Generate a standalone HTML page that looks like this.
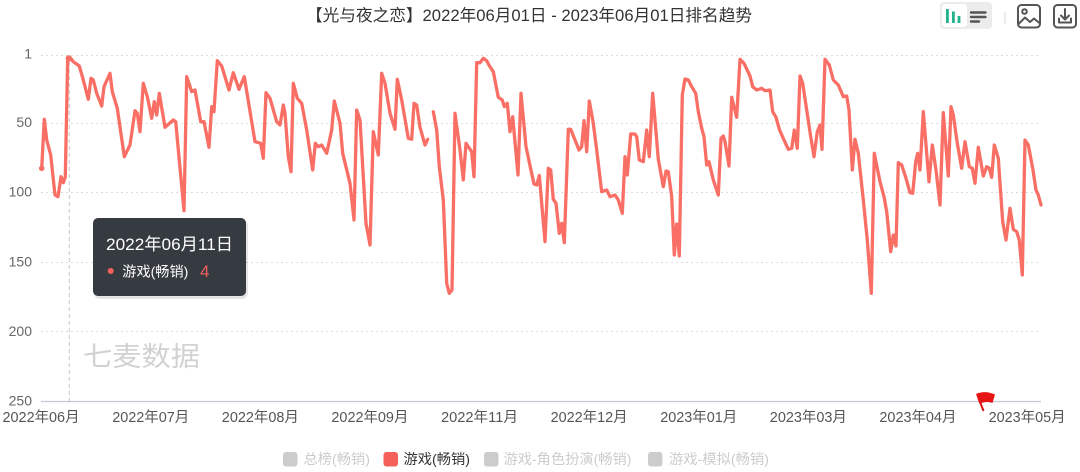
<!DOCTYPE html>
<html>
<head>
<meta charset="utf-8">
<style>
html,body{margin:0;padding:0;background:#fff;}
body{width:1080px;height:472px;overflow:hidden;}
svg{display:block;font-family:"Liberation Sans","Noto Sans CJK SC",sans-serif;}
</style>
</head>
<body>
<svg width="1080" height="472" viewBox="0 0 1080 472" xmlns="http://www.w3.org/2000/svg">
  <rect width="1080" height="472" fill="#fff"/>
  <!-- Title -->
  <text x="306" y="21" font-size="16.5" fill="#333" textLength="446" lengthAdjust="spacingAndGlyphs">【光与夜之恋】2022年06月01日 - 2023年06月01日排名趋势</text>

  <!-- Toolbar icons -->
  <rect x="940" y="2" width="52" height="27" rx="4" fill="#ececec"/>
  <rect x="942" y="4" width="25" height="23" rx="3" fill="#fff"/>
  <rect x="946" y="9" width="2.8" height="14" fill="#22b38c"/>
  <rect x="952" y="11.5" width="2.8" height="11.5" fill="#22b38c"/>
  <rect x="957.6" y="16" width="2.8" height="7" fill="#22b38c"/>
  <g stroke="#555" stroke-width="2.4" stroke-linecap="round">
    <line x1="971" y1="12.5" x2="985.5" y2="12.5"/>
    <line x1="971" y1="17" x2="985.5" y2="17"/>
    <line x1="971" y1="21.5" x2="979" y2="21.5"/>
  </g>
  <line x1="1005" y1="12" x2="1005" y2="24" stroke="#d8d8d8" stroke-width="1"/>
  <g fill="none" stroke="#555" stroke-width="2" stroke-linejoin="round" stroke-linecap="round">
    <rect x="1018" y="5" width="22" height="22.5" rx="3.5"/>
    <circle cx="1024.5" cy="11.5" r="2.3"/>
    <polyline points="1018.5,24 1025,17.5 1030,22 1034,18.5 1039.5,23"/>
    <rect x="1054" y="5" width="22" height="22.5" rx="3.5"/>
    <line x1="1065" y1="9" x2="1065" y2="19"/>
    <polyline points="1061,15.5 1065,19.5 1069,15.5"/>
    <polyline points="1059,18.5 1059,22.5 1071,22.5 1071,18.5"/>
  </g>

  <!-- Grid lines -->
  <g stroke="#dcdcdc" stroke-width="1" stroke-dasharray="2,3">
    <line x1="41" y1="55.5" x2="1041" y2="55.5"/>
    <line x1="41" y1="123.5" x2="1041" y2="123.5"/>
    <line x1="41" y1="192.5" x2="1041" y2="192.5"/>
    <line x1="41" y1="262.5" x2="1041" y2="262.5"/>
    <line x1="41" y1="331.5" x2="1041" y2="331.5"/>
  </g>
  <line x1="41" y1="401.5" x2="1041" y2="401.5" stroke="#c3cad3" stroke-width="1.2"/>

  <!-- Y labels -->
  <g font-size="14" fill="#666" text-anchor="end">
    <text x="32" y="58.5">1</text>
    <text x="32" y="127">50</text>
    <text x="32" y="196.5">100</text>
    <text x="32" y="266.5">150</text>
    <text x="32" y="336">200</text>
    <text x="32" y="405.5">250</text>
  </g>

  <!-- X labels -->
  <g font-size="14.5" fill="#555">
    <text x="2.5" y="422" textLength="77" lengthAdjust="spacingAndGlyphs">2022年06月</text>
    <text x="112.2" y="422" textLength="77" lengthAdjust="spacingAndGlyphs">2022年07月</text>
    <text x="221.8" y="422" textLength="77" lengthAdjust="spacingAndGlyphs">2022年08月</text>
    <text x="331.4" y="422" textLength="77" lengthAdjust="spacingAndGlyphs">2022年09月</text>
    <text x="441" y="422" textLength="77" lengthAdjust="spacingAndGlyphs">2022年11月</text>
    <text x="550.6" y="422" textLength="77" lengthAdjust="spacingAndGlyphs">2022年12月</text>
    <text x="660.2" y="422" textLength="77" lengthAdjust="spacingAndGlyphs">2023年01月</text>
    <text x="769.8" y="422" textLength="77" lengthAdjust="spacingAndGlyphs">2023年03月</text>
    <text x="879.4" y="422" textLength="77" lengthAdjust="spacingAndGlyphs">2023年04月</text>
    <text x="988.6" y="422" textLength="77" lengthAdjust="spacingAndGlyphs">2023年05月</text>
  </g>

  <!-- Watermark -->
  <text x="83" y="366" font-size="27" fill="#d2d2d2" textLength="117" lengthAdjust="spacingAndGlyphs">七麦数据</text>

  <!-- Axis pointer -->
  <line x1="69.3" y1="55" x2="69.3" y2="401" stroke="#c8c8c8" stroke-width="1" stroke-dasharray="4,3"/>

  <!-- Series line -->
  <g fill="none" stroke="#f96f65" stroke-width="3.3" stroke-linejoin="round" stroke-linecap="round">
    <polyline points="41.7,168.3 44.3,119.3 46.7,140 50.7,155 55,195 58,196.7 61,176.7 63.3,182.7 65.3,176.7 67.7,58.3 70.7,58.3 73.3,61.7 79.3,66 83.3,80 88.3,99.3 91,78.3 93.3,80 96.7,93.3 101.7,106 104,86.7 110,73.3 112.3,91.7 117.3,108.3 124.3,156.7 130,145 135,110.7 137.3,113.3 140,131.7 143.3,83.3 147.3,96.7 151.7,118.3 154.3,101.7 156.7,115 159.3,93.3 165,127.3 173.3,120 175.7,121.7 184,210.7 186.7,76.7 191.7,91.7 195,90 200.7,121.7 204,121.7 209,147.3 211.7,106.7 214,111.7 217.3,60.7 221.7,66 229,90 233.3,72.7 239,89.3 244.3,76.7 255,141.7 260.7,143.3 263.3,158.3 266,92.7 270,98.3 276.7,121.7 280,125 283.3,105 285,113.3 288.3,156.7 291,171.7 293.3,83.3 297.3,98.3 301.7,103.3 306.7,130 312.7,170 315.3,143.3 318.3,146.7 321.7,145 326.7,153.3 331.7,130 334.3,101 340,123.3 342.7,153.3 350,183.3 354,220 356.7,110 360,120 366,223.3 370,245 373.3,131.7 378.3,155 381.7,73.3 385,83.3 390,113.3 395,129.3 397.3,79.3 401.7,100 408.3,138.3 411.7,139.3 414,103.3 416.7,105 420,127.3 425,145 427.7,139.3"/>
    <polyline points="433.3,111.7 436.7,130 439.3,166.7 443.3,200 446.7,283.3 449.3,293.3 452,290 455,113.3 460,150 463.3,180 466,143.3 471.7,151.7 474,176.7 476.7,62.7 480,62.7 483.3,58.3 486.7,60.7 489.3,65.7 493.3,71.7 498.3,97.3 502.3,100 504.3,106.7 507.3,103.3 510,131.7 512.7,116.7 518,175 521,93.3 526,146.7 530.5,168 534,184 536.7,185 539.3,175.5 545,241.7 548.3,168.3 550.7,170 553.3,199.3 556,203.3 559.3,233.3 561.7,223.3 564.3,242.7 568.3,129.3 570.7,129.3 575,140 579,150 581.7,146.7 584,120.7 586.7,151.7 589.3,101 593.3,123.3 596.7,150 601.7,191.7 606.7,190 610,196.7 615,195 618.3,200 622.3,213.3 625,156.7 627.3,175 630.7,134 635,134 636.7,136.7 639.3,160 643.3,161.7 646.7,130 649.3,156.7 652.7,93.3 658.3,159.3 663.3,186.7 666,171 668.3,171.7 671.7,196.7 674.3,255 676.7,224 679.3,256 682.3,95 685,79 688.3,80 691.7,86.7 695.7,93.3 698.3,111.7 701.7,128.3 704,136.7 706.7,165 709,161.7 713.3,180 718.3,195 721,138.3 723.3,136 725,141.7 729,166 731.7,97.3 736.7,117.3 740,59.3 744,63.3 750,76 752.7,86.7 756.7,90 761.7,88.3 765,90.7 770,90 772.7,111.7 776,117.3 779.3,129.3 784,140 788.3,149.3 791.7,148.3 794.3,130 797.3,148.3 800,76 802.7,83.3 806.7,110 810.7,136.7 814,156.7 817.3,131.7 820,125 822,149.3 825,59.3 829.3,65 833.3,80 838.3,85 843.3,96.7 846.7,96 849,110 852.3,170 855,139.3 858.3,153.3 863.3,200 867.3,240 871.3,293.3 874.3,153.3 880,181.7 884,196.7 886.7,211.7 890.7,251.7 893.3,235 896,246 898.3,162.7 901.7,165 906,178.3 910,192.7 912.7,193.3 915.7,161.7 917.7,153.3 920,170 923.3,111.7 929,181.7 932.3,145 936,170 940,205 943.3,112.7 948.3,176 951,106.7 953.3,115 957.3,143.3 961.7,168.3 965,141.7 969.3,166.7 972.3,168.3 975,183.3 978.3,147.3 983.3,176 986.7,166.7 989.3,168.3 991.7,177.3 994.3,145 998.3,158.3 1002.7,221.7 1006,240 1010,208.3 1013.3,229.3 1016.7,231.7 1019.3,240 1022.3,275 1025,140 1028.3,145 1032.7,168.3 1036,190 1038.3,195 1041,205"/>
  </g>
  <circle cx="41.7" cy="168.3" r="2.8" fill="#f96f65"/>
  <circle cx="68.8" cy="58.5" r="3.2" fill="#f96f65"/>

  <!-- Flag -->
  <line x1="977.5" y1="395" x2="983.5" y2="411" stroke="#e01010" stroke-width="2"/>
  <path d="M976,394 Q985,390 995,394.5 L992.5,403 Q986,400.5 979.5,404 Z" fill="#e51515"/>

  <!-- Tooltip -->
  <g>
    <rect x="94" y="220" width="154" height="79" rx="6" fill="#000" opacity="0.1"/>
    <rect x="93" y="218" width="153" height="78" rx="5" fill="#363b42"/>
    <text x="106" y="250" font-size="17" fill="#fff" textLength="127" lengthAdjust="spacingAndGlyphs">2022年06月11日</text>
    <circle cx="110.7" cy="271" r="3" fill="#f5615a"/>
    <text x="122.3" y="276.5" font-size="14" fill="#fff" textLength="66" lengthAdjust="spacingAndGlyphs">游戏(畅销)</text>
    <text x="200" y="277" font-size="17" fill="#f0625a">4</text>
  </g>

  <!-- Legend -->
  <g font-size="14">
    <rect x="283" y="452" width="14.5" height="14.5" rx="3" fill="#ccc"/>
    <text x="303.5" y="464" fill="#ccc" textLength="66.5" lengthAdjust="spacingAndGlyphs">总榜(畅销)</text>
    <rect x="383.5" y="452" width="14.5" height="14.5" rx="3" fill="#f5615a"/>
    <text x="403.5" y="464" fill="#333" textLength="66.5" lengthAdjust="spacingAndGlyphs">游戏(畅销)</text>
    <rect x="484" y="452" width="14.5" height="14.5" rx="3" fill="#ccc"/>
    <text x="503.5" y="464" fill="#ccc" textLength="128" lengthAdjust="spacingAndGlyphs">游戏-角色扮演(畅销)</text>
    <rect x="648" y="452" width="14.5" height="14.5" rx="3" fill="#ccc"/>
    <text x="669" y="464" fill="#ccc" textLength="100" lengthAdjust="spacingAndGlyphs">游戏-模拟(畅销)</text>
  </g>
</svg>
</body>
</html>
